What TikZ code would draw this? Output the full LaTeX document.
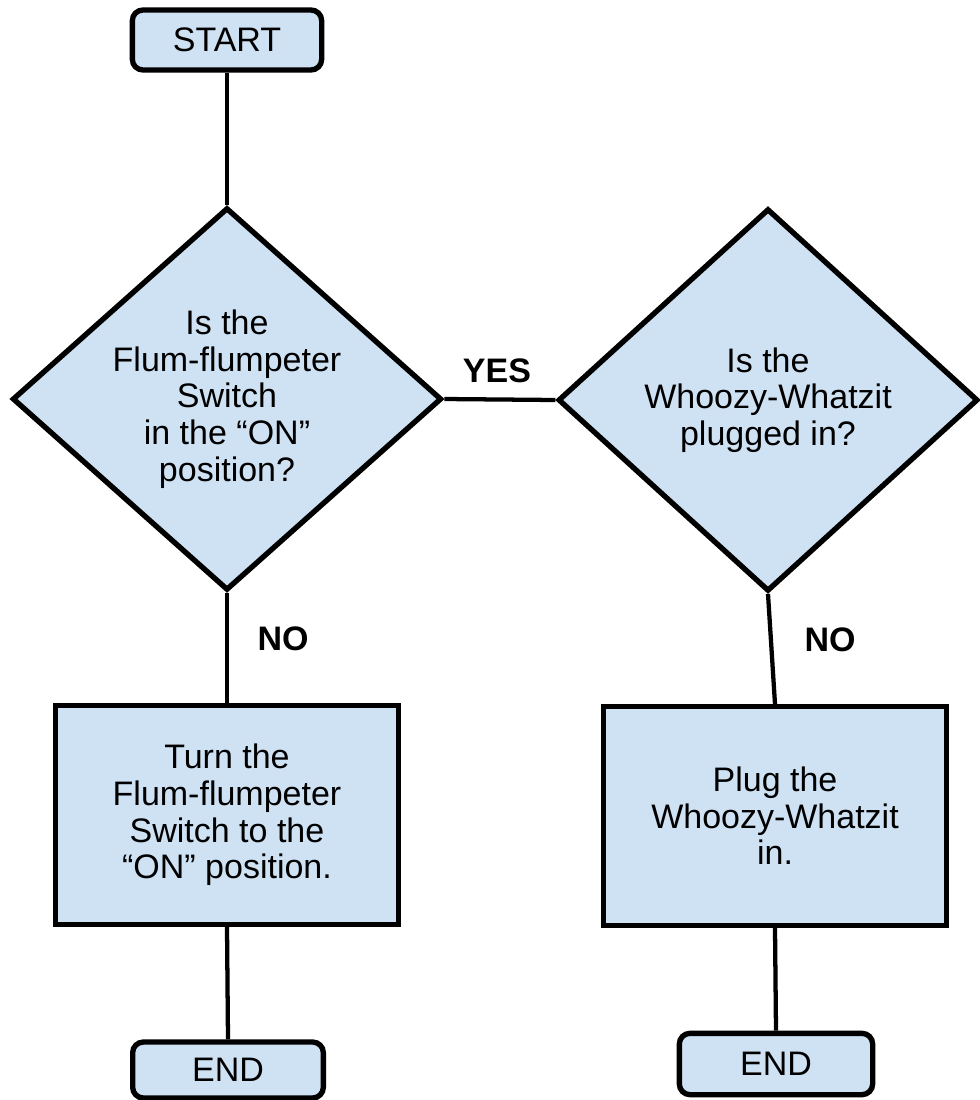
\documentclass[tikz,border=0pt]{standalone}
\usepackage{fontspec}
\setmainfont{Liberation Sans}
\usetikzlibrary{shapes.geometric}
\definecolor{boxblue}{HTML}{CFE2F3}
\begin{document}
\begin{tikzpicture}[x=0.75pt,y=-0.75pt,
  every node/.style={font=\fontsize{25.5}{27.5}\selectfont},
  terminal/.style={draw=black,line width=4pt,fill=boxblue,rounded corners=8pt,
    minimum width=#1,inner sep=0pt,align=center},
  decision/.style={diamond,draw=black,line width=4pt,fill=boxblue,
    minimum width=322pt,minimum height=287pt,inner sep=0pt},
  question/.style={align=center,inner sep=0pt},
  action/.style={rectangle,draw=black,line width=4pt,fill=boxblue,
    minimum width=#1,minimum height=164pt,inner sep=0pt,align=center},
  link/.style={draw=black,line width=3.2pt},
  answer/.style={font=\fontsize{25.5}{27.5}\selectfont\bfseries}]
\useasboundingbox (0,0) rectangle (980,1100);

% start and the first question
\node[terminal=142pt,minimum height=45pt] (start) at (227,40) {START};
\node[decision] (q1) at (227,399) {};
\node[question] (q1text) at (q1.center) {Is the\\Flum-flumpeter\\Switch\\in the “ON”\\position?};

% second question
\node[decision,minimum width=315pt] (q2) at (768,400) {};
\node[question] (q2text) at (q2.center) {Is the\\Whoozy-Whatzit\\plugged in?};

% actions
\node[action=257pt] (a1) at (227,815) {Turn the\\Flum-flumpeter\\Switch to the\\“ON” position.};
\node[action=257pt] (a2) at (775,816) {Plug the\\Whoozy-Whatzit\\in.};

% end points
\node[terminal=143pt,minimum height=42pt] (end1) at (228,1070) {END};
\node[terminal=145pt,minimum height=46pt] (end2) at (776,1064) {END};

% connectors
\draw[link] (start.south) -- (q1.north);
\draw[link] (q1.east) -- (q2.west);
\draw[link] (q1.south) -- (a1.north);
\draw[link] (a1.south) -- (end1.north);
\draw[link] (q2.south) -- (a2.north);
\draw[link] (a2.south) -- (end2.north);

% answer labels
\node[answer] (yes) at (497,371) {YES};
\node[answer] (no1) at (283,639) {NO};
\node[answer] (no2) at (830,640) {NO};
\end{tikzpicture}
\end{document}
